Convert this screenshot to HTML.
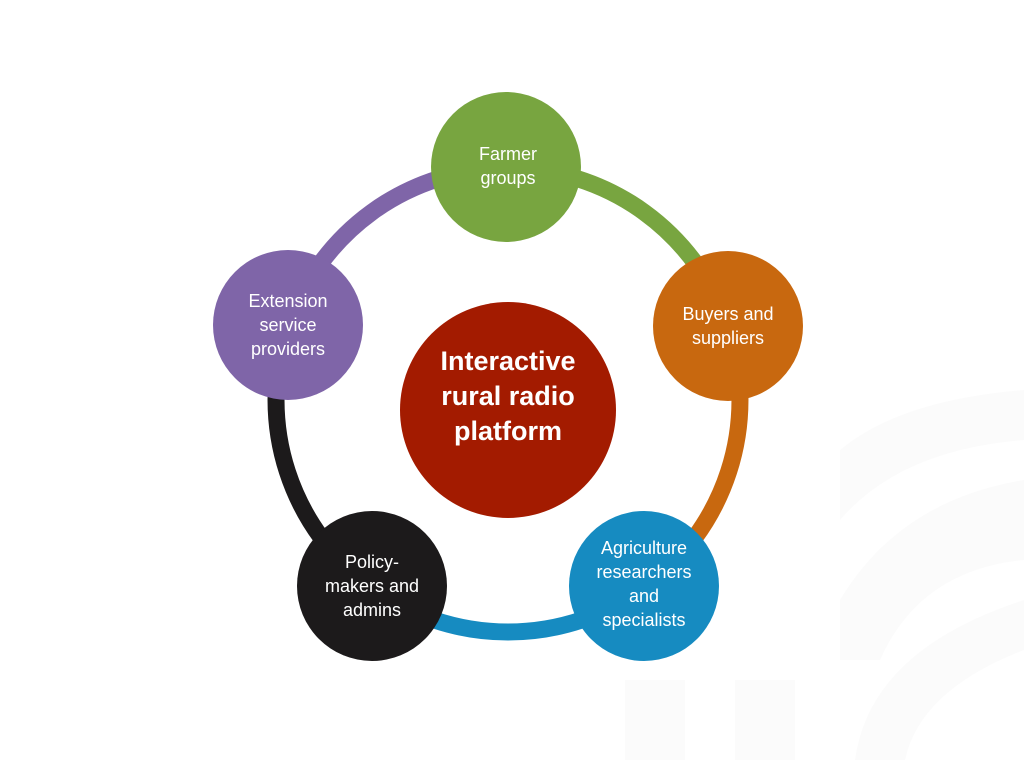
<!DOCTYPE html>
<html><head><meta charset="utf-8"><style>
html,body{margin:0;padding:0;background:#fff;}
svg{display:block}
text{font-family:"Liberation Sans",sans-serif;fill:#fff;text-anchor:middle}
</style></head><body>
<svg width="1024" height="768" viewBox="0 0 1024 768">
<g fill="#fbfbfb">
<path d="M840 450 Q900 400 1024 390 L1024 440 Q900 450 840 520Z"/>
<path d="M840 600 Q900 500 1024 480 L1024 560 Q920 570 880 660 L840 660Z"/>
<rect x="625" y="680" width="60" height="80"/>
<rect x="735" y="680" width="60" height="80"/>
<path d="M855 760 Q870 650 1024 600 L1024 650 Q920 690 905 760Z"/>
</g>
<g fill="none" stroke-width="17">
<path d="M508 168 A232 232 0 0 1 728.6 328.3" stroke="#78a540"/>
<path d="M728.6 328.3 A232 232 0 0 1 644.4 587.7" stroke="#c8680f"/>
<path d="M644.4 587.7 A232 232 0 0 1 371.6 587.7" stroke="#168bc1"/>
<path d="M371.6 587.7 A232 232 0 0 1 287.4 328.3" stroke="#1c1a1b"/>
<path d="M287.4 328.3 A232 232 0 0 1 508 168" stroke="#7f65a8"/>
</g>
<circle cx="508" cy="410" r="108" fill="#a31b00"/>
<circle cx="506" cy="167" r="75" fill="#78a540"/>
<circle cx="728" cy="326" r="75" fill="#c8680f"/>
<circle cx="644" cy="586" r="75" fill="#168bc1"/>
<circle cx="372" cy="586" r="75" fill="#1c1a1b"/>
<circle cx="288" cy="325" r="75" fill="#7f65a8"/>
<g font-size="18">
<text x="508" y="160">Farmer</text><text x="508" y="184">groups</text>
<text x="728" y="320">Buyers and</text><text x="728" y="344">suppliers</text>
<text x="644" y="554">Agriculture</text><text x="644" y="578">researchers</text><text x="644" y="602">and</text><text x="644" y="626">specialists</text>
<text x="372" y="568">Policy-</text><text x="372" y="592">makers and</text><text x="372" y="616">admins</text>
<text x="288" y="307">Extension</text><text x="288" y="331">service</text><text x="288" y="355">providers</text>
</g>
<g font-size="27" font-weight="bold">
<text x="508" y="370">Interactive</text><text x="508" y="405">rural radio</text><text x="508" y="440">platform</text>
</g>
</svg>
</body></html>
